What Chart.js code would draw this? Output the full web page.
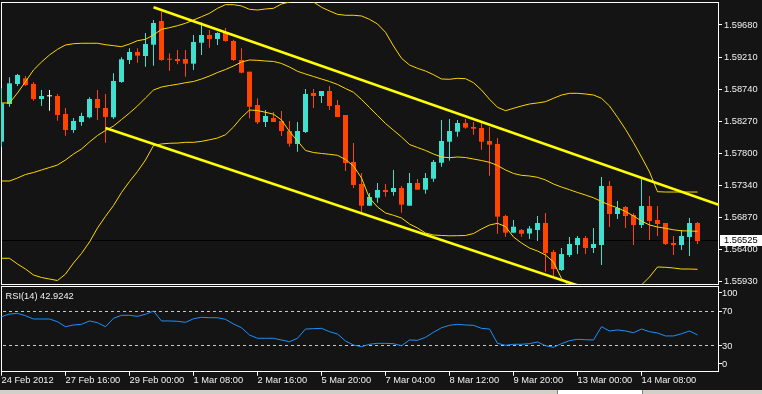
<!DOCTYPE html>
<html><head><meta charset="utf-8">
<script src="https://cdn.jsdelivr.net/npm/chart.js@4"></script>
<style>
html,body{margin:0;padding:0;background:#141414;width:762px;height:394px;overflow:hidden;}
canvas{position:absolute;left:0;}
#main{top:0;}
#rsi{top:285px;}
.tabs{position:absolute;left:0;top:390px;width:762px;height:4px;background:#d4d0c8;}
.tab{position:absolute;left:557px;top:0;width:86px;height:4px;background:#fff;border-left:1px solid #808080;border-right:1px solid #808080;box-sizing:border-box;}
</style></head><body>
<canvas id="main" width="762" height="287"></canvas>
<canvas id="rsi" width="762" height="109"></canvas>
<div class="tabs"><div class="tab"></div></div>
<script>
// ---- data (H4 bars) ----
const opens = [1.57975,1.58526,1.58818,1.58901,1.58818,1.58599,1.58638,1.58643,1.58380,1.58146,
1.58263,1.58332,1.58599,1.58467,1.58332,1.58847,1.59169,1.59286,1.59227,1.59392,
1.59738,1.59179,1.59183,1.59183,1.59115,1.59421,1.59534,1.59475,1.59563,1.59446,
1.59169,1.58998,1.58511,1.58263,1.58321,1.58278,1.58131,1.57942,1.58117,1.58687,
1.58643,1.58716,1.58511,1.58365,1.57679,1.57357,1.57040,1.57157,1.57270,1.57240,
1.57299,1.57040,1.57372,1.57274,1.57435,1.57668,1.57975,1.58121,1.58248,1.58190,
1.58175,1.57985,1.57942,1.56890,1.56646,1.56685,1.56634,1.56685,1.56787,1.56364,
1.56101,1.56320,1.56466,1.56568,1.56422,1.56466,1.57328,1.56919,1.57021,1.56904,
1.56758,1.57036,1.56831,1.56787,1.56495,1.56466,1.56583,1.56787];
const highs = [1.58755,1.58916,1.58964,1.58935,1.58847,1.58730,1.58730,1.58672,1.58467,1.58321,
1.58399,1.58624,1.58730,1.58672,1.58974,1.59208,1.59340,1.59340,1.59563,1.59753,
1.59874,1.59267,1.59315,1.59315,1.59534,1.59719,1.59607,1.59573,1.59636,1.59465,
1.59340,1.58998,1.58609,1.58438,1.58409,1.58424,1.58278,1.58263,1.58745,1.58745,
1.58716,1.58789,1.58584,1.58365,1.57956,1.57518,1.57226,1.57372,1.57357,1.57562,
1.57328,1.57518,1.57430,1.57518,1.57708,1.58292,1.58307,1.58292,1.58307,1.58263,
1.58263,1.58190,1.58029,1.56909,1.56831,1.56700,1.56744,1.56890,1.56934,1.56393,
1.56422,1.56583,1.56598,1.56598,1.56714,1.57459,1.57401,1.57109,1.57036,1.56934,
1.57459,1.57182,1.57036,1.56787,1.56598,1.56685,1.56860,1.56802];
const lows = [1.57902,1.58486,1.58789,1.58789,1.58574,1.58497,1.58428,1.58282,1.58063,1.58107,
1.58209,1.58317,1.58292,1.57961,1.58307,1.58837,1.59110,1.59129,1.59071,1.59085,
1.59158,1.59012,1.59106,1.58925,1.59023,1.59242,1.59348,1.59388,1.59436,1.59154,
1.58974,1.58317,1.58234,1.58190,1.58263,1.58058,1.57902,1.57829,1.58102,1.58467,
1.58541,1.58438,1.58336,1.57547,1.57299,1.56919,1.57040,1.57084,1.57172,1.57186,
1.56938,1.57040,1.57274,1.57216,1.57391,1.57610,1.57698,1.58048,1.58165,1.58077,
1.57858,1.57478,1.56631,1.56587,1.56646,1.56587,1.56554,1.56525,1.56076,1.56003,
1.56086,1.56291,1.56334,1.56334,1.56349,1.56174,1.56729,1.56846,1.56714,1.56466,
1.56714,1.56539,1.56598,1.56466,1.56320,1.56393,1.56305,1.56481];
const closes = [1.58536,1.58828,1.58950,1.58803,1.58599,1.58643,1.58638,1.58365,1.58146,1.58278,
1.58351,1.58599,1.58467,1.58336,1.58862,1.59179,1.59286,1.59232,1.59402,1.59709,
1.59169,1.59173,1.59154,1.59115,1.59432,1.59534,1.59475,1.59563,1.59446,1.59169,
1.58983,1.58486,1.58259,1.58351,1.58263,1.58131,1.57946,1.58131,1.58672,1.58643,
1.58716,1.58497,1.58336,1.57664,1.57343,1.57040,1.57167,1.57270,1.57240,1.57299,
1.57055,1.57372,1.57274,1.57445,1.57679,1.57985,1.58131,1.58248,1.58180,1.58165,
1.57975,1.57931,1.56880,1.56646,1.56733,1.56631,1.56707,1.56787,1.56349,1.56115,
1.56334,1.56481,1.56568,1.56422,1.56481,1.57328,1.56919,1.57007,1.56890,1.56758,
1.57036,1.56817,1.56773,1.56481,1.56466,1.56598,1.56787,1.56525];
const bbUpper = [1.58541,1.58541,1.58687,1.58852,1.59023,1.59139,1.59242,1.59325,1.59388,1.59407,
1.59413,1.59413,1.59413,1.59392,1.59378,1.59363,1.59402,1.59451,1.59471,1.59534,
1.59617,1.59641,1.59670,1.59705,1.59753,1.59801,1.59851,1.59924,1.59977,1.59977,
1.59958,1.59909,1.59899,1.59914,1.59924,1.59987,1.60016,1.60045,1.60060,1.60016,
1.59939,1.59885,1.59836,1.59822,1.59822,1.59812,1.59763,1.59695,1.59573,1.59373,
1.59194,1.59096,1.59047,1.59008,1.58954,1.58891,1.58887,1.58901,1.58896,1.58837,
1.58730,1.58595,1.58478,1.58428,1.58463,1.58497,1.58526,1.58541,1.58560,1.58609,
1.58657,1.58682,1.58682,1.58672,1.58657,1.58609,1.58497,1.58332,1.58156,1.57961,
1.57752,1.57533,1.57245,1.57240,1.57240,1.57240,1.57240,1.57240];
const bbMiddle = [1.57401,1.57401,1.57445,1.57496,1.57525,1.57562,1.57598,1.57635,1.57708,1.57795,
1.57868,1.57971,1.58066,1.58139,1.58204,1.58299,1.58394,1.58497,1.58614,1.58730,
1.58774,1.58796,1.58814,1.58837,1.58855,1.58891,1.58935,1.58986,1.59030,1.59081,
1.59139,1.59169,1.59164,1.59154,1.59147,1.59118,1.59066,1.59004,1.58964,1.58928,
1.58891,1.58855,1.58811,1.58752,1.58697,1.58592,1.58475,1.58358,1.58241,1.58142,
1.58044,1.57934,1.57890,1.57847,1.57795,1.57752,1.57741,1.57752,1.57744,1.57722,
1.57700,1.57674,1.57627,1.57562,1.57511,1.57484,1.57474,1.57455,1.57416,1.57357,
1.57313,1.57274,1.57233,1.57196,1.57156,1.57101,1.57050,1.57009,1.56955,1.56890,
1.56817,1.56758,1.56729,1.56710,1.56688,1.56673,1.56671,1.56666];
const bbLower = [1.56272,1.56272,1.56188,1.56115,1.56028,1.55991,1.55969,1.55947,1.56042,1.56203,
1.56342,1.56510,1.56714,1.56885,1.57043,1.57233,1.57394,1.57540,1.57708,1.57920,
1.57942,1.57952,1.57955,1.57966,1.57966,1.57980,1.58003,1.58029,1.58077,1.58190,
1.58329,1.58438,1.58431,1.58405,1.58377,1.58292,1.58124,1.57985,1.57847,1.57817,
1.57803,1.57791,1.57776,1.57715,1.57620,1.57445,1.57153,1.57021,1.56934,1.56900,
1.56860,1.56773,1.56714,1.56641,1.56612,1.56605,1.56600,1.56602,1.56605,1.56634,
1.56700,1.56758,1.56783,1.56736,1.56583,1.56495,1.56422,1.56378,1.56320,1.56218,
1.55977,1.55867,1.55779,1.55721,1.55655,1.55597,1.55604,1.55687,1.55755,1.55819,
1.55882,1.55999,1.56145,1.56140,1.56130,1.56115,1.56115,1.56111];
const rsi = [64.2,67.3,68.1,65.3,61.5,61.5,61.5,58.3,52.5,54.5,
55.3,59.2,57.2,52.5,62.3,65.8,65.8,64.6,67.0,70.8,
59.2,59.2,58.8,57.6,61.8,63.5,63.0,63.0,61.1,55.7,
51.3,42.8,39.0,39.0,39.0,37.0,35.0,39.0,49.8,50.2,
50.6,46.7,44.0,35.8,31.2,29.2,32.0,33.1,33.1,32.7,
30.3,37.0,36.6,40.1,46.0,51.3,54.1,55.3,54.5,54.1,
50.6,49.8,33.1,30.8,32.0,32.0,32.7,34.7,30.3,28.5,
32.7,36.2,37.8,37.3,37.0,52.5,47.5,48.7,47.5,45.5,
49.8,46.7,45.2,41.7,41.7,44.3,47.5,42.9242];
const timeLabels = ['24 Feb 2012','27 Feb 16:00','29 Feb 00:00','1 Mar 08:00','2 Mar 16:00','5 Mar 20:00','7 Mar 04:00','8 Mar 12:00','9 Mar 20:00','13 Mar 00:00','14 Mar 08:00'];
const labelEvery = 8;
const priceTicks = [1.55930,1.56400,1.56870,1.57340,1.57800,1.58270,1.58740,1.59210,1.59680];
const rsiTicks = [0,30,70,100];
const rsiLevels = [70,30];
const trendUpperX = [19,90], trendUpperY = [1.59939,1.57039];
const trendLowerX = [13,90], trendLowerY = [1.58175,1.55175];

// ---- styles ----
const UP='#40E0D0', DOWN='#FF4500', DOJI='#FFFFFF', BAND='#FFD700', TREND='#FFFF00', TXT='#F0F0F0';
const FONT="'Liberation Sans',Arial,sans-serif";
const FS=9.3;
const X_MIN=-0.0625, X_MAX=89.6875, Y_MIN=1.558962, Y_MAX=1.60016;
const lastPrice = closes[closes.length-1];
const candleColor = closes.map((c,i)=> c>opens[i]?UP:(c<opens[i]?DOWN:DOJI));
const pts = arr => arr.map((v,i)=>({x:i,y:v}));
const noPad = s => { s.paddingTop=0; s.paddingBottom=0; s.paddingLeft=0; s.paddingRight=0; };
const lineDs = (data,color,w,order)=>({type:'line',data,borderColor:color,borderWidth:w,pointRadius:0,order,clip:0,tension:0});

const mainDecor = {
  id:'mainDecor',
  beforeDatasetsDraw(chart){
    const {ctx, chartArea:a, scales:{y}} = chart;
    ctx.save();
    ctx.strokeStyle='#FFFFFF'; ctx.lineWidth=1;
    ctx.strokeRect(a.left+0.5, a.top+0.5, a.right-a.left-1, a.bottom-a.top);
    const py = Math.round(y.getPixelForValue(lastPrice))-0.5;
    ctx.strokeStyle='#000000';
    ctx.beginPath(); ctx.moveTo(a.left+1,py); ctx.lineTo(a.right-1,py); ctx.stroke();
    ctx.restore();
  },
  afterDraw(chart){
    const {ctx, chartArea:a, scales:{y}} = chart;
    const py = y.getPixelForValue(lastPrice);
    ctx.save();
    ctx.fillStyle='#FFFFFF';
    ctx.fillRect(a.right+1, Math.round(py)-6, 762-a.right-1, 11);
    ctx.fillStyle='#000000';
    ctx.font=FS+"px "+FONT; ctx.textBaseline='middle'; ctx.textAlign='left';
    ctx.fillText(lastPrice.toFixed(5), a.right+5, py-0.5);
    ctx.restore();
  }
};

new Chart(document.getElementById('main'), {
  type:'bar',
  data:{datasets:[
    {label:'wick', data:closes.map((c,i)=>({x:i,y:[lows[i],highs[i]]})), backgroundColor:candleColor, barThickness:1, grouped:false, order:3, inflateAmount:0, borderWidth:0},
    {label:'body', data:closes.map((c,i)=>({x:i,y:[opens[i],c]})), backgroundColor:candleColor, barThickness:5, minBarLength:1, grouped:false, order:2, inflateAmount:0, borderWidth:0},
    lineDs(pts(bbUpper),BAND,1,1),
    lineDs(pts(bbMiddle),BAND,1,1),
    lineDs(pts(bbLower),BAND,1,1),
    lineDs(trendUpperX.map((x,k)=>({x,y:trendUpperY[k]})),TREND,2.6,0),
    lineDs(trendLowerX.map((x,k)=>({x,y:trendLowerY[k]})),TREND,2.6,0)
  ]},
  options:{
    responsive:false, animation:false, events:[],
    layout:{padding:{left:1,top:2,right:0,bottom:3}},
    plugins:{legend:{display:false},tooltip:{enabled:false}},
    scales:{
      x:{type:'linear',min:X_MIN,max:X_MAX,display:false,offset:false},
      y:{position:'right',min:Y_MIN,max:Y_MAX,
        afterBuildTicks:s=>{s.ticks=priceTicks.map(v=>({value:v}));},
        afterFit:s=>{s.width=43;noPad(s);},
        ticks:{color:TXT,font:{family:FONT,size:FS},padding:2,callback:v=>Number(v).toFixed(5)},
        grid:{drawOnChartArea:false,drawTicks:true,tickLength:3,color:'#FFFFFF'},
        border:{display:false}}
    }
  },
  plugins:[mainDecor]
});

const rsiDecor = {
  id:'rsiDecor',
  beforeDatasetsDraw(chart){
    const {ctx, chartArea:a, scales:{y}} = chart;
    ctx.save();
    ctx.strokeStyle='#FFFFFF'; ctx.lineWidth=1;
    ctx.strokeRect(a.left+0.5, a.top+0.5, a.right-a.left-1, Math.floor(a.bottom-a.top));
    ctx.strokeStyle='#C8C8C8'; ctx.setLineDash([3,3]);
    rsiLevels.forEach(v=>{
      const py = Math.round(y.getPixelForValue(v))-0.5;
      ctx.beginPath(); ctx.moveTo(a.left+2,py); ctx.lineTo(a.right-2,py); ctx.stroke();
    });
    ctx.restore();
  },
  afterDraw(chart){
    const {ctx, chartArea:a, scales:{y}} = chart;
    ctx.save();
    ctx.font=FS+"px "+FONT; ctx.textBaseline='middle'; ctx.textAlign='left';
    ctx.fillStyle=TXT; ctx.strokeStyle='#FFFFFF'; ctx.lineWidth=1;
    rsiTicks.forEach(v=>{
      let py = y.getPixelForValue(v);
      py = Math.min(Math.max(py, a.top+7), a.bottom-7.5);
      const ty = Math.round(py)-0.5;
      ctx.beginPath(); ctx.moveTo(a.right,ty); ctx.lineTo(a.right+3,ty); ctx.stroke();
      ctx.fillText(String(v), a.right+3, py);
    });
    ctx.fillText('RSI(14) '+rsi[rsi.length-1].toFixed(4), a.left+4.5, a.top+10);
    ctx.restore();
  }
};

new Chart(document.getElementById('rsi'), {
  type:'line',
  data:{datasets:[{data:pts(rsi),borderColor:'#1E90FF',borderWidth:1,pointRadius:0,clip:0,tension:0}]},
  options:{
    responsive:false, animation:false, events:[],
    layout:{padding:{left:1,top:1,right:0,bottom:0}},
    plugins:{legend:{display:false},tooltip:{enabled:false}},
    scales:{
      x:{type:'linear',min:X_MIN,max:X_MAX,offset:false,
        afterBuildTicks:s=>{s.ticks=timeLabels.map((_,k)=>({value:k*labelEvery}));},
        afterFit:s=>{s.height=22.3;noPad(s);},
        ticks:{color:TXT,font:{family:FONT,size:FS,lineHeight:1},padding:0,align:'start',maxRotation:0,autoSkip:false,callback:(v,k)=>timeLabels[k]},
        grid:{drawOnChartArea:false,drawTicks:true,tickLength:4,color:'#FFFFFF'},
        border:{display:false}},
      y:{position:'right',min:0,max:100,
        afterFit:s=>{s.width=43;noPad(s);},
        ticks:{display:false},grid:{display:false},border:{display:false}}
    }
  },
  plugins:[rsiDecor]
});
</script>
</body></html>
